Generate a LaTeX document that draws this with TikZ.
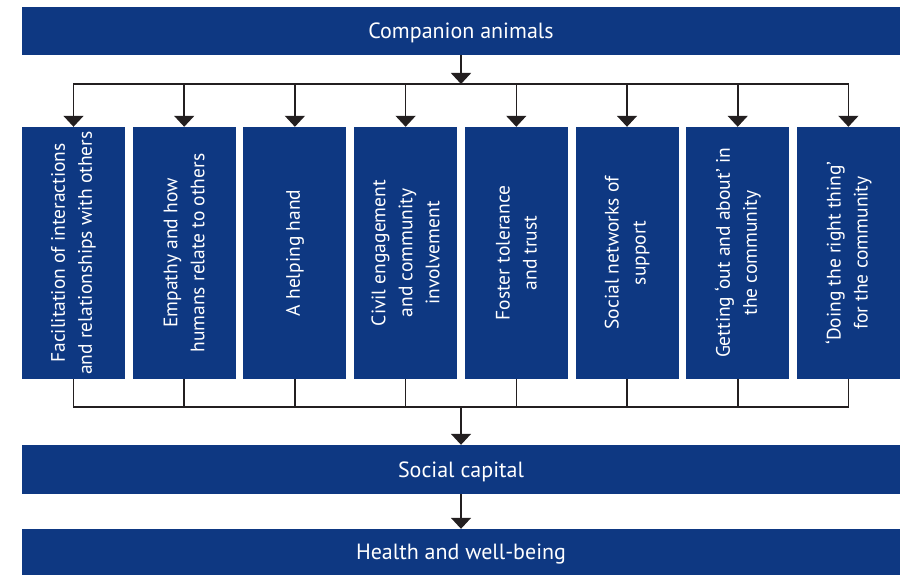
\documentclass[tikz,border=0pt]{standalone}
\usepackage{fontspec}
\setmainfont{PT Sans}
\usetikzlibrary{positioning}
\usetikzlibrary{arrows.meta}
\definecolor{capblue}{RGB}{14,56,130}
\definecolor{linegray}{RGB}{35,31,32}
\tikzset{wide node/.style={rectangle,fill=capblue,text=white,minimum width=878pt,inner sep=0pt,text height=15.5pt,text depth=0pt,font=\fontsize{22}{27}\selectfont} }
\tikzset{factor node/.style={rectangle,fill=capblue,text=white,rotate=90,minimum width=252pt,minimum height=103pt,inner sep=0pt,align=center,font=\fontsize{19.5}{27}\selectfont} }
\tikzset{link/.style={draw=linegray,line width=1.6pt} }
\tikzset{flow/.style={link,-{Triangle[width=20pt,length=11pt]}} }

\begin{document}
\begin{tikzpicture}
\useasboundingbox (0,0) rectangle (904pt,-575pt);
\begin{scope}[on grid]

  \node[wide node,minimum height=48pt] (top) at (461pt,-31pt) {Companion animals};

  \node[factor node] (1) at (73.5pt,-253pt) {Facilitation of interactions\\and relationships with others};
  \node[factor node] (2) [right =110.7pt of 1] {Empathy and how\\humans relate to others};
  \node[factor node] (3) [right =110.7pt of 2] {A helping hand};
  \node[factor node] (4) [right =110.7pt of 3] {Civil engagement\\and community\\involvement};
  \node[factor node] (5) [right =110.7pt of 4] {Foster tolerance\\and trust};
  \node[factor node] (6) [right =110.7pt of 5] {Social networks of\\support};
  \node[factor node] (7) [right =110.7pt of 6] {Getting ‘out and about’ in\\the community};
  \node[factor node] (8) [right =110.7pt of 7] {‘Doing the right thing’\\for the community};

  \node[wide node,minimum height=49pt] (social) at (461pt,-469.5pt) {Social capital};
  \node[wide node,minimum height=46pt] (health) [below =82.5pt of social] {Health and well-being};

  \coordinate[below =53pt of top] (bus1);
  \coordinate[above =62.5pt of social] (bus2);

    % top fan out
    \draw[flow] (top) -- (bus1);
    \draw[link,line cap=rect] (bus1 -| 1) -- (bus1 -| 8);
    \foreach \i in {1,...,8}
      \draw[flow] (bus1 -| \i) -- (\i);

    % collect into social capital
    \draw[link] (1) -- (1 |- bus2) -- (8 |- bus2) -- (8);
    \foreach \i in {2,...,7}
      \draw[link] (\i) -- (\i |- bus2);
    \draw[flow] (bus2) -- (social);
    \draw[flow] (social) -- (health);
\end{scope}
\end{tikzpicture}
\end{document}
